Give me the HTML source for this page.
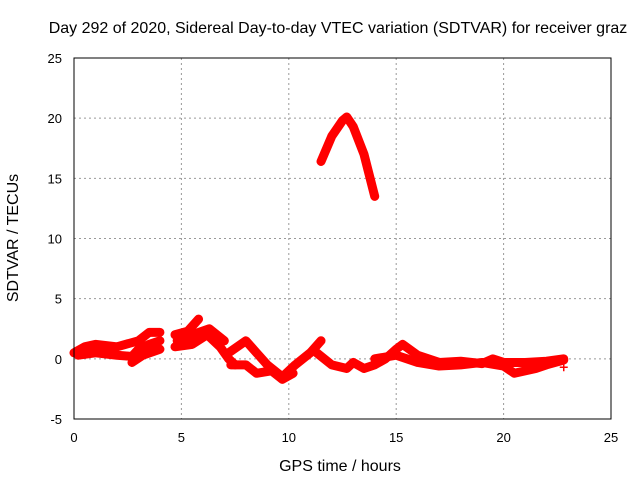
<!DOCTYPE html>
<html><head><meta charset="utf-8"><style>
body{margin:0;background:#fff}
text{font-family:"Liberation Sans",sans-serif;font-size:13px;fill:#000}
.big{font-size:16px}
</style></head><body>
<svg id="c" width="640" height="480">
<text class="big" x="338" y="33" text-anchor="middle">Day 292 of 2020, Sidereal Day-to-day VTEC variation (SDTVAR) for receiver graz</text>
<text class="big" x="340" y="471" text-anchor="middle">GPS time / hours</text>
<text class="big" transform="translate(18,238) rotate(-90)" text-anchor="middle">SDTVAR / TECUs</text>
<g id="grid"></g><g id="ticks"></g><g id="series"></g>
<rect x="74" y="58" width="537" height="361" fill="none" stroke="#000"/>
</svg>
<script>
const xTicks=[0,5,10,15,20,25];
const yTicks=[-5,0,5,10,15,20,25];
const tracks=[
[[0,0.5],[0.5,1],[1,1.2],[2,1],[3,1.5],[3.5,2.2],[4,2.2]],
[[0.2,0.3],[1,0.5],[2,0.3],[2.7,0.2],[3,0.8],[3.5,1.2],[4,1.5]],
[[2.7,-0.3],[3.2,0.3],[4,0.8]],
[[4.7,2],[5.3,2.3],[5.8,3.3]],
[[4.7,1],[5.5,1.2],[6.2,2],[6.8,1],[7.2,0],[7.5,-0.5]],
[[4.8,1.5],[5.5,2],[6.3,2.5],[7,1.5]],
[[7.2,0.5],[8,1.5],[8.5,0.5],[9,-0.5],[9.7,-1.5],[10.3,-0.5],[11,0.5],[11.5,1.5]],
[[7.3,-0.5],[8,-0.5],[8.5,-1.2],[9.2,-1],[9.7,-1.7],[10.2,-1.2]],
[[11.3,0.5],[12,-0.5],[12.7,-0.8],[13,-0.3],[13.5,-0.8],[14,-0.5],[14.5,0],[15,0.8],[15.3,1.2],[16,0.3],[17,-0.3],[18,-0.2],[19,-0.4],[19.5,0],[20,-0.3],[21,-0.3],[22,-0.2],[22.8,0]],
[[14,0],[15,0.3],[16,-0.3],[17,-0.6],[18,-0.5],[19,-0.3],[20,-0.6],[20.5,-1.2],[21,-1],[21.5,-0.8],[22,-0.5],[22.8,-0.1]],
[[11.5,16.4],[12,18.5],[12.5,19.8],[12.7,20.1],[13,19.3],[13.5,17],[14,13.5]]
];
const strays=[[22.8,-0.7]];
const X=v=>74+v/25*537, Y=v=>419-(v+5)/30*361;
const NS="http://www.w3.org/2000/svg";
const g=document.getElementById('grid'),t=document.getElementById('ticks'),s=document.getElementById('series');
function mk(tag,a,p){const e=document.createElementNS(NS,tag);for(const k in a)e.setAttribute(k,a[k]);p.appendChild(e);return e;}
xTicks.forEach(v=>{
 if(v>0&&v<25){const l=mk('line',{x1:X(v),x2:X(v),y1:58,y2:419,stroke:'#999','stroke-dasharray':'2,3'},g);
 
 }
 const tx=mk('text',{x:X(v),y:442,'text-anchor':'middle'},t);tx.textContent=v;
 
 
});
yTicks.forEach(v=>{
 if(v>-5&&v<25){const l=mk('line',{x1:74,x2:611,y1:Y(v),y2:Y(v),stroke:'#999','stroke-dasharray':'2,3'},g);
 
 }
 const tx=mk('text',{x:62,y:Y(v)+5,'text-anchor':'end'},t);tx.textContent=v;
 
 
});
tracks.forEach(tr=>{
 const p=mk('polyline',{points:tr.map(d=>X(d[0])+','+Y(d[1])).join(' '),fill:'none',stroke:'#f00','stroke-width':9,'stroke-linejoin':'round','stroke-linecap':'round'},s);
 
 
});
strays.forEach(d=>{
 const p=mk('path',{d:`M${X(d[0])-4},${Y(d[1])}h8M${X(d[0])},${Y(d[1])-4}v8`,stroke:'#f00','stroke-width':1.5},s);
 
 
});
</script>
</body></html>
